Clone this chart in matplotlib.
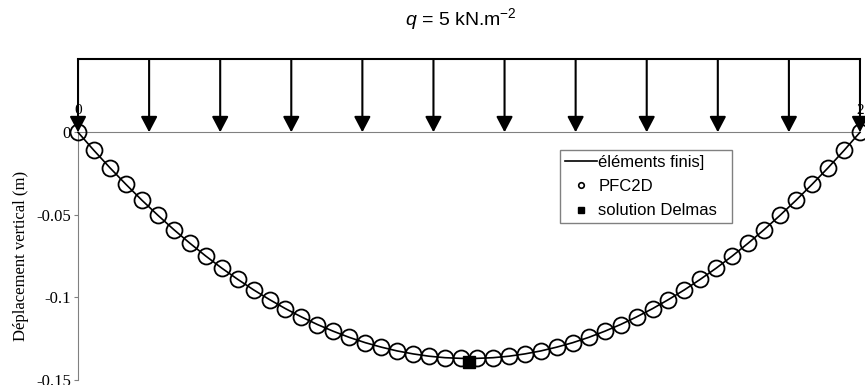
import numpy as np
import matplotlib.pyplot as plt
from matplotlib.lines import Line2D

plt.rcParams['mathtext.fontset'] = 'custom'
plt.rcParams['mathtext.it'] = 'Liberation Sans:italic'
plt.rcParams['mathtext.rm'] = 'Liberation Sans'

# Abscisses le long de la poutre (m)
x_pfc = np.linspace(0, 2, 50)
# Déplacement vertical PFC2D (m)
y_pfc = [0.0, -0.0110, -0.0215, -0.0315, -0.0411, -0.0502, -0.0589, -0.0671,
         -0.0749, -0.0822, -0.0890, -0.0954, -0.1013, -0.1068, -0.1118, -0.1164,
         -0.1205, -0.1242, -0.1274, -0.1301, -0.1324, -0.1342, -0.1356, -0.1365,
         -0.1369, -0.1369, -0.1365, -0.1356, -0.1342, -0.1324, -0.1301, -0.1274,
         -0.1242, -0.1205, -0.1164, -0.1118, -0.1068, -0.1013, -0.0954, -0.0890,
         -0.0822, -0.0749, -0.0671, -0.0589, -0.0502, -0.0411, -0.0315, -0.0215,
         -0.0110, 0.0]
# Eléments finis (même discrétisation)
x_ef = x_pfc
y_ef = y_pfc
# Solution Delmas (flèche à mi-portée)
x_delmas = [1.0]
y_delmas = [-0.139]

# Chargement réparti : 12 flèches
x_charge = np.linspace(0, 2, 12)
y_charge = 0.0443

yticks = [0, -0.05, -0.1, -0.15]
ytick_labels = ['0', '-0.05', '-0.1', '-0.15']

serif = 'Liberation Serif'
sans = 'Liberation Sans'

fig = plt.figure(figsize=(8.65, 3.85), dpi=100)
ax = fig.add_axes([0.0902, 0.013, 0.904, 0.6434])

ax.plot(x_ef, y_ef, 'k-', lw=1.2, clip_on=False, zorder=3)
ax.plot(x_pfc, y_pfc, 'o', ms=11.5, mfc='none', mec='k', mew=1.3, clip_on=False, zorder=4)
ax.plot(x_delmas, y_delmas, 's', ms=8.5, color='k', clip_on=False, zorder=5)

# chargement q
ax.plot([0, 2], [y_charge, y_charge], 'k-', lw=1.5, clip_on=False)
for xc in x_charge:
    ax.annotate('', xy=(xc, 0), xytext=(xc, y_charge), annotation_clip=False,
                arrowprops=dict(arrowstyle='-|>,head_length=0.95,head_width=0.5',
                                mutation_scale=10, shrinkA=0, shrinkB=0,
                                color='k', lw=1.5))

ax.set_xlim(0, 2)
ax.set_ylim(-0.15, 0)

for s in ['right', 'bottom']:
    ax.spines[s].set_visible(False)
ax.spines['top'].set_position(('data', 0))
ax.spines['top'].set_color('#808080')
ax.spines['left'].set_color('#808080')

ax.xaxis.set_ticks_position('top')
ax.set_xticks([0, 2])
ax.set_xticklabels(['0', '2'], family=serif, fontsize=11)
ax.tick_params(axis='x', length=0, pad=11)

ax.set_yticks(yticks)
ax.set_yticklabels(ytick_labels, family=serif, fontsize=12)
ax.tick_params(axis='y', length=3, color='#808080', pad=2)

ax.set_ylabel('Déplacement vertical (m)', family=serif, fontsize=12, labelpad=5)

fig.text(0.533, 0.95, r'$q$ = 5 kN.m$^{-2}$', family=sans, fontsize=14,
         ha='center', va='center')

handles = [Line2D([], [], color='k', lw=1.2),
           Line2D([], [], marker='o', ls='none', ms=4, mfc='none', mec='k', mew=1.2),
           Line2D([], [], marker='s', ls='none', ms=5, color='k')]
labels = ['éléments finis]', 'PFC2D', 'solution Delmas']
leg = fig.legend(handles, labels, loc='upper left',
                 bbox_to_anchor=(560 / 865, (385 - 225) / 385, 172 / 865, 75 / 385),
                 bbox_transform=fig.transFigure, borderaxespad=0, mode='expand',
                 prop={'family': sans, 'size': 12}, frameon=True, fancybox=False,
                 edgecolor='#808080', framealpha=1, handlelength=1.9,
                 handletextpad=0.1, labelspacing=0.55, borderpad=0.3)
leg.get_frame().set_linewidth(1.0)

fig.savefig('out.png', dpi=100)
